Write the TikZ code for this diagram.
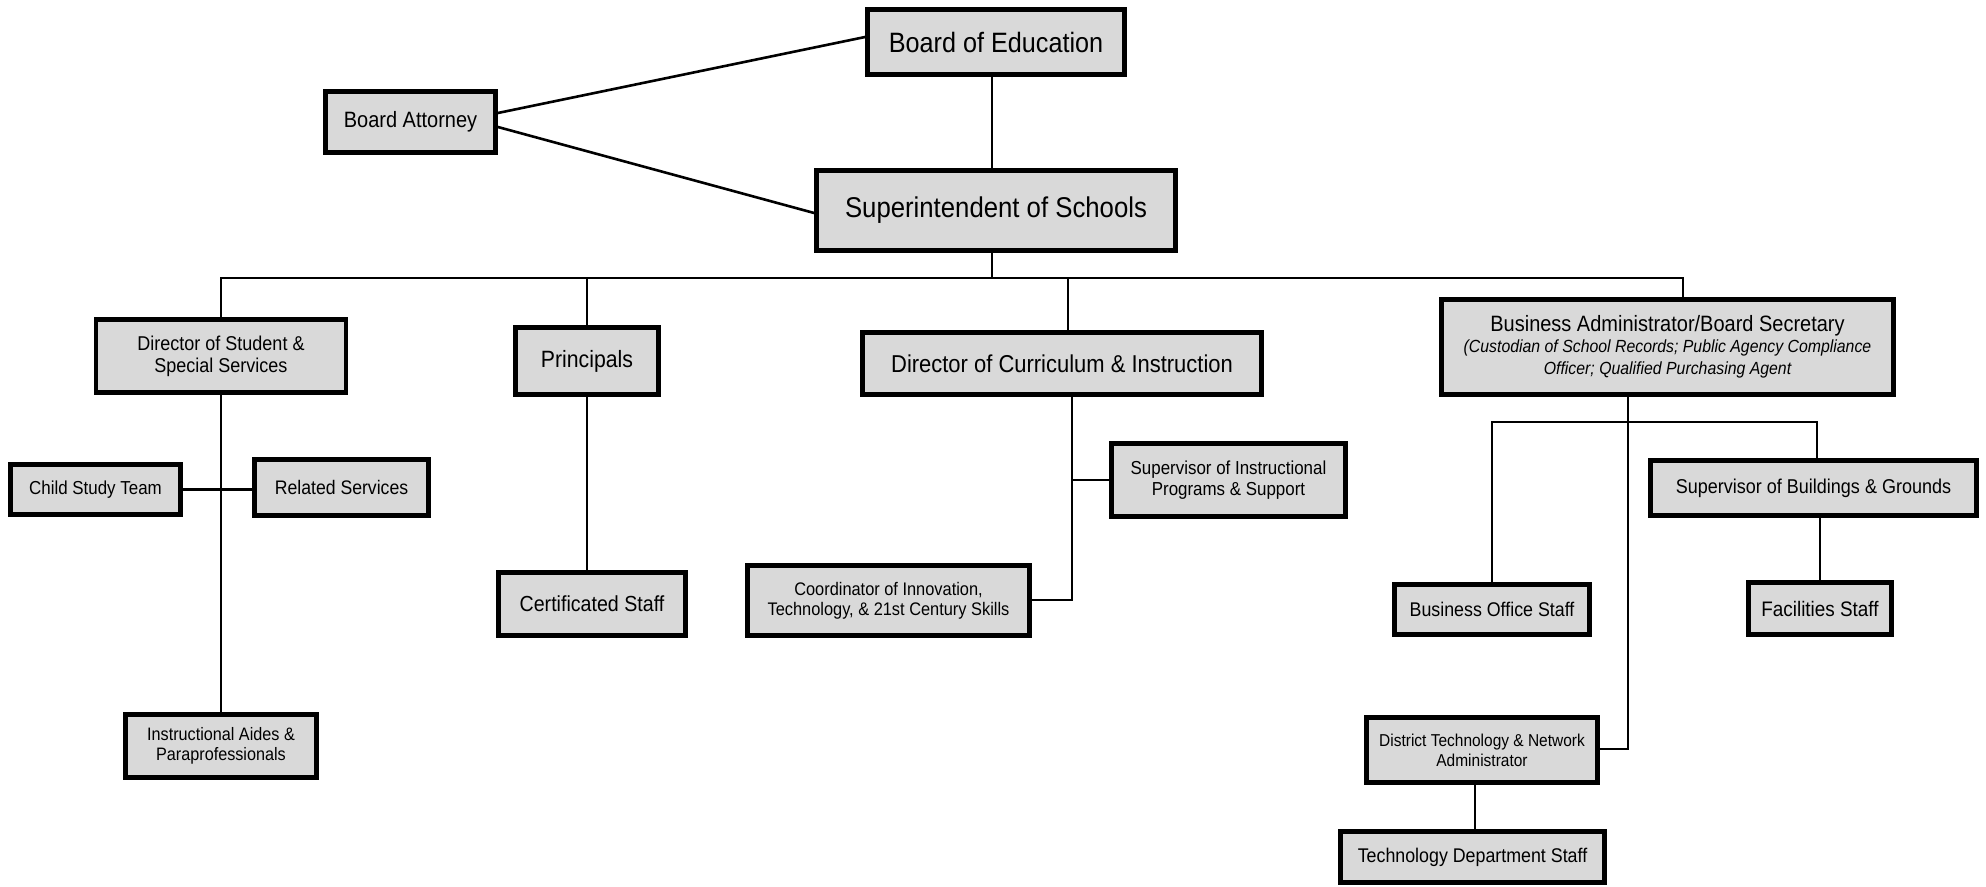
\documentclass[tikz,border=0pt]{standalone}
\usepackage{fontspec}
\setmainfont{Liberation Sans}[FakeStretch=0.9]
\usetikzlibrary{calc}
\tikzset{
  orgbox/.style={draw=black, line width=2.4pt, fill=black!15, inner sep=0pt, align=center, text=black},
  link/.style={draw=black, line width=1.3pt},
}
\newcommand{\fs}[2]{\fontsize{#1}{#2}\selectfont}
\begin{document}
\begin{tikzpicture}[x=0.5pt,y=-0.5pt]
\useasboundingbox[fill=white] (0,0) rectangle (1986,887);
% top level
\node[orgbox, minimum width=128.5pt, minimum height=32.5pt, font=\fs{14}{15}] (boe) at (996,42) {Board of Education};
\node[orgbox, minimum width=85pt, minimum height=30.5pt, font=\fs{11.1}{12}] (att) at (410.5,122) {Board Attorney};
\node[orgbox, minimum width=179.5pt, minimum height=40pt, font=\fs{14.3}{15}] (sup) at (996,210.5) {Superintendent of Schools};
% second level
\node[orgbox, minimum width=125pt, minimum height=36.5pt, font=\fs{10}{11}] (dsss) at (221,356) {Director of Student \&\\Special Services};
\node[orgbox, minimum width=71.5pt, minimum height=33.5pt, font=\fs{11.8}{12}] (prin) at (587,361) {Principals};
\node[orgbox, minimum width=199.5pt, minimum height=31pt, font=\fs{12.2}{13}] (dci) at (1062,363.5) {Director of Curriculum \& Instruction};
\node[orgbox, minimum width=226pt, minimum height=47.5pt, font=\fs{11.1}{11}] (bas) at (1667.5,347) {Business Administrator/Board Secretary\\[-0.5pt]{\fs{8.8}{7.6}\itshape (Custodian of School Records; Public Agency Compliance}\\{\fs{8.8}{7.6}\itshape Officer; Qualified Purchasing Agent}};
% third level
\node[orgbox, minimum width=85pt, minimum height=25pt, font=\fs{9.4}{10}] (cst) at (95.5,489.5) {Child Study Team};
\node[orgbox, minimum width=87pt, minimum height=28pt, font=\fs{9.8}{10}] (rs) at (341.5,487.5) {Related Services};
\node[orgbox, minimum width=95.5pt, minimum height=31.5pt, font=\fs{9}{10}] (ia) at (221,746) {Instructional Aides \&\\Paraprofessionals};
\node[orgbox, minimum width=93.5pt, minimum height=31.5pt, font=\fs{10.9}{12}] (cs) at (592,604) {Certificated Staff};
\node[orgbox, minimum width=117pt, minimum height=36.5pt, font=\fs{9.4}{10.5}] (sips) at (1228.5,480) {Supervisor of Instructional\\Programs \& Support};
\node[orgbox, minimum width=141pt, minimum height=35pt, font=\fs{9.1}{10}] (citcs) at (888.5,600.5) {Coordinator of Innovation,\\Technology, \& 21st Century Skills};
\node[orgbox, minimum width=97.5pt, minimum height=25pt, font=\fs{9.9}{10}] (bos) at (1492,609.5) {Business Office Staff};
\node[orgbox, minimum width=163pt, minimum height=27.5pt, font=\fs{10}{10}] (sbg) at (1813.5,488) {Supervisor of Buildings \& Grounds};
\node[orgbox, minimum width=71.5pt, minimum height=26pt, font=\fs{10.5}{10}] (fs) at (1820,608.5) {Facilities Staff};
\node[orgbox, minimum width=115.5pt, minimum height=32.5pt, font=\fs{8.6}{10}] (dtna) at (1482,750) {District Technology \& Network\\Administrator};
\node[orgbox, minimum width=132pt, minimum height=25.5pt, font=\fs{9.9}{10}] (tds) at (1472.5,857) {Technology Department Staff};
% coordinates
\coordinate (spine) at (992,278);
\coordinate (busR) at (1683,278);
\coordinate (dciTop) at (1068,278);
\coordinate (dciB) at (1072,600);
\coordinate (bt) at (1628,749);
\coordinate (sbR) at (1817,422);
\coordinate (tx) at (1475,800);
% connectors
\draw[link] ($(att.east)+(0,-9)$) -- ($(boe.west)+(0,-5)$);
\draw[link] ($(att.east)+(0,5)$) -- ($(sup.west)+(0,2.5)$);
\draw[link, line width=0.9pt] (boe.south -| spine) -- (sup.north -| spine);
\draw[link] (sup.south -| spine) -- (spine);
\draw[link] (dsss.north) |- (busR) -- (busR |- bas.north);
\draw[link] (prin.north) -- (prin.north |- busR);
\draw[link] (dciTop) -- (dciTop |- dci.north);
\draw[link] (dsss.south) -- (ia.north);
\draw[link] (cst.east) -- (cst.east -| rs.west);
\draw[link] (prin.south) -- (prin.south |- cs.north);
\draw[link] (dci.south -| dciB) -- (dciB) -- (dciB -| citcs.east);
\draw[link] (sips.west) -- (sips.west -| dciB);
\draw[link] (bas.south -| bt) -- (bt) -- (bt -| dtna.east);
\draw[link] (bos.north) |- (sbR) -- (sbR |- sbg.north);
\draw[link] (sbg.south -| fs.north) -- (fs.north);
\draw[link] (dtna.south -| tx) -- (tds.north -| tx);
\end{tikzpicture}
\end{document}
